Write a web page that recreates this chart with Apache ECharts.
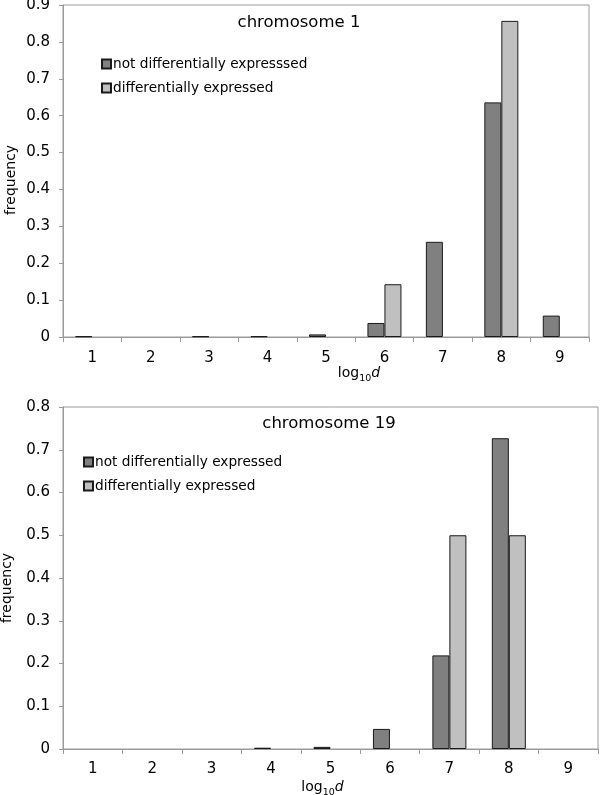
<!DOCTYPE html>
<html>
<head>
<meta charset="utf-8">
<script src="https://cdn.jsdelivr.net/npm/echarts@6/dist/echarts.min.js"></script>
<style>
html,body{margin:0;padding:0;background:#fff;}
#chart{width:600px;height:795px;}
</style>
</head>
<body>
<div id="chart"></div>
<script>
const categories = ['1', '2', '3', '4', '5', '6', '7', '8', '9'];
const chr1NotDE = [0.002, 0, 0.002, 0.002, 0.007, 0.038, 0.258, 0.636, 0.058];
const chr1DE = [0, 0, 0, 0, 0, 0.143, 0, 0.857, 0];
const chr19NotDE = [0, 0, 0, 0.003, 0.005, 0.047, 0.219, 0.727, 0];
const chr19DE = [0, 0, 0, 0, 0, 0, 0.5, 0.5, 0];
const chr1Max = 0.9;
const chr19Max = 0.8;
const yInterval = 0.1;
const title1 = 'chromosome 1';
const title19 = 'chromosome 19';
const name1NotDE = 'not differentially expresssed';
const name19NotDE = 'not differentially expressed';
const nameDE = 'differentially expressed';

const FONT = 'DejaVu Sans';
const DARK = '#808080';
const LIGHT = '#c0c0c0';
const AXIS = '#9a9a9a';

const clean = arr => arr.map(v => (v === 0 ? null : v));

const chart = echarts.init(document.getElementById('chart'), null, {renderer: 'canvas'});

function xAxis(gridIndex, margin, gap, pad) {
  return {
    type: 'category', gridIndex, data: categories,
    axisLine: {lineStyle: {color: AXIS, width: 1}},
    axisTick: {show: true, length: 5, alignWithLabel: false, lineStyle: {color: AXIS}},
    axisLabel: {color: '#000', fontFamily: FONT, fontSize: 15, margin},
    name: '{a|log}{s|10}{i|d}', nameLocation: 'middle', nameGap: gap, nameMoveOverlap: false,
    nameTextStyle: {
      padding: [0, 0, 0, pad],
      rich: {
        a: {fontFamily: FONT, fontSize: 14, color: '#000', verticalAlign: 'bottom', lineHeight: 16},
        s: {fontFamily: FONT, fontSize: 9.5, color: '#000', verticalAlign: 'bottom', lineHeight: 12, padding: [0, 0, -4, 0]},
        i: {fontFamily: FONT, fontSize: 14, fontStyle: 'italic', color: '#000', verticalAlign: 'bottom', lineHeight: 16}
      }
    }
  };
}
function yAxis(gridIndex, max, gap, pad) {
  return {
    type: 'value', gridIndex, min: 0, max, interval: yInterval,
    axisLine: {show: true, lineStyle: {color: AXIS, width: 1}},
    axisTick: {show: true, length: 4, lineStyle: {color: AXIS}},
    splitLine: {show: false},
    axisLabel: {color: '#000', fontFamily: FONT, fontSize: 15, margin: 13,
      formatter: v => (Math.round(v * 10) / 10).toString()},
    name: 'frequency', nameLocation: 'middle', nameGap: gap, nameRotate: 90, nameMoveOverlap: false,
    nameTextStyle: {color: '#000', fontFamily: FONT, fontSize: 14, padding: [0, pad, 0, 0]}
  };
}
function bar(name, data, xi, color) {
  return {
    type: 'bar', name, xAxisIndex: xi, yAxisIndex: xi, data: clean(data),
    barWidth: 17, barGap: '0%',
    itemStyle: {color, borderColor: '#1a1a1a', borderWidth: 1},
    emphasis: {disabled: true}
  };
}

chart.setOption({
  animation: false,
  backgroundColor: '#fff',
  title: [
    {text: title1, left: 294, top: 9, textAlign: 'center',
      textStyle: {fontFamily: FONT, fontSize: 16.5, fontWeight: 'normal', color: '#000'}},
    {text: title19, left: 324, top: 410, textAlign: 'center',
      textStyle: {fontFamily: FONT, fontSize: 16.5, fontWeight: 'normal', color: '#000'}}
  ],
  legend: [
    {data: [name1NotDE, nameDE], orient: 'vertical', left: 96, top: 52, itemGap: 10,
      icon: 'rect', itemWidth: 9, itemHeight: 9,
      textStyle: {fontFamily: FONT, fontSize: 13.7, color: '#000', padding: [0, 0, 0, -3]},
      selectedMode: false},
    {data: [name19NotDE, nameDE], orient: 'vertical', left: 78, top: 450, itemGap: 10,
      icon: 'rect', itemWidth: 9, itemHeight: 9,
      textStyle: {fontFamily: FONT, fontSize: 13.7, color: '#000', padding: [0, 0, 0, -3]},
      selectedMode: false}
  ],
  grid: [
    {left: 63, right: 11, top: 5, height: 332, show: true, borderColor: AXIS, borderWidth: 1,
      containLabel: false, outerBoundsMode: 'none'},
    {left: 63, right: 2, top: 407, height: 342, show: true, borderColor: AXIS, borderWidth: 1,
      containLabel: false, outerBoundsMode: 'none'}
  ],
  xAxis: [xAxis(0, 14, 27, 66), xAxis(1, 13, 29, -16)],
  yAxis: [yAxis(0, chr1Max, 45, 18), yAxis(1, chr19Max, 49, 20)],
  series: [
    bar(name1NotDE, chr1NotDE, 0, DARK),
    bar(nameDE, chr1DE, 0, LIGHT),
    bar(name19NotDE, chr19NotDE, 1, DARK),
    bar(nameDE, chr19DE, 1, LIGHT)
  ]
});
</script>
</body>
</html>
